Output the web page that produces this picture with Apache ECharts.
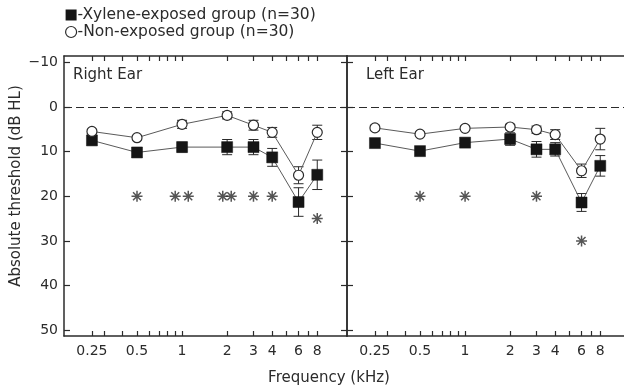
<!DOCTYPE html>
<html>
<head>
<meta charset="utf-8">
<script src="https://cdn.jsdelivr.net/npm/echarts@6/dist/echarts.min.js"></script>
<style>
  html, body { margin: 0; padding: 0; background: #fff; }
  #chart { width: 624px; height: 385px; }
</style>
</head>
<body>
<div id="chart"></div>
<script>
// frequencies (kHz) measured
const freqs = [0.25, 0.5, 1, 2, 3, 4, 6, 8];
const freqLabels = [0.25, 0.5, 1, 2, 3, 4, 6, 8];
const freqTicks = [0.25, 0.3, 0.4, 0.5, 0.6, 0.7, 0.8, 0.9, 1, 2, 3, 4, 5, 6, 7, 8];
const dbTicks = [-10, 0, 10, 20, 30, 40, 50];

// right ear
const rightXylene = [7.5, 10.2, 9.0, 9.0, 9.0, 11.3, 21.3, 15.2];
const rightXyleneErr = [0.6, 0.6, 1.1, 1.7, 1.7, 2.0, 3.2, 3.3];
const rightControl = [5.5, 6.9, 3.9, 1.9, 4.1, 5.7, 15.3, 5.7];
const rightControlErr = [0.5, 0.5, 0.9, 0.8, 1.1, 1.1, 1.9, 1.6];
const rightStarFreqs = [0.5, 0.9, 1.1, 1.87, 2.13, 3, 4, 8];
const rightStarLevels = [20, 20, 20, 20, 20, 20, 20, 25];

// left ear
const leftXylene = [8.1, 9.9, 8.0, 7.2, 9.5, 9.5, 21.4, 13.2];
const leftXyleneErr = [0.6, 0.6, 0.8, 1.4, 1.75, 1.5, 2.0, 2.3];
const leftControl = [4.7, 6.1, 4.8, 4.5, 5.1, 6.2, 14.3, 7.2];
const leftControlErr = [0.6, 0.5, 0.5, 0.6, 0.8, 1.1, 1.5, 2.4];
const leftStarFreqs = [0.5, 1, 3, 6];
const leftStarLevels = [20, 20, 20, 30];

const XY_NAME = 'Xylene-exposed group (n=30)';
const NON_NAME = 'Non-exposed group (n=30)';
const FONT = 'DejaVu Sans';
const INK = '#2b2b2b';
const LINE = '#5a5a5a';

const log2 = v => Math.log2(v);

function pts(fs, vals, errs) {
  return fs.map((f, i) => errs ? [log2(f), vals[i], errs[i]] : [log2(f), vals[i]]);
}

function xAxes(gridIndex) {
  const base = {
    type: 'value', gridIndex: gridIndex, min: -2.62, max: 3.66,
    splitLine: { show: false },
    axisLine: { show: true, onZero: false, lineStyle: { color: INK, width: 1.5 } },
    axisTick: { show: true, inside: true, length: 5, customValues: freqTicks.map(log2),
      lineStyle: { color: INK, width: 1.2 } }
  };
  return [
    Object.assign({}, base, {
      position: 'bottom',
      axisLabel: { show: true, customValues: freqLabels.map(log2), margin: 8,
        color: INK, fontSize: 14, fontFamily: FONT,
        formatter: v => String(Math.round(Math.pow(2, v) * 100) / 100) }
    }),
    Object.assign({}, base, { position: 'top', axisLabel: { show: false } })
  ];
}

function yAxes(gridIndex, withLabels) {
  const base = {
    type: 'value', gridIndex: gridIndex, inverse: true, min: -11.4, max: 51.3,
    splitLine: { show: false },
    axisLine: { show: true, onZero: false, lineStyle: { color: INK, width: 1.5 } },
    axisTick: { show: true, inside: true, length: 6, customValues: dbTicks,
      lineStyle: { color: INK, width: 1.2 } }
  };
  const left = Object.assign({}, base, {
    position: 'left',
    axisLabel: { show: withLabels, customValues: dbTicks, margin: 6,
      color: INK, fontSize: 14, fontFamily: FONT,
      formatter: v => (v < 0 ? '\u2212' + Math.abs(v) : String(v)) }
  });
  if (withLabels) {
    left.name = 'Absolute threshold (dB HL)';
    left.nameLocation = 'middle';
    left.nameGap = 40;
    left.nameTextStyle = { color: INK, fontSize: 15, fontFamily: FONT, padding: [0, 0, 0, 20] };
  }
  return [left, Object.assign({}, base, { position: 'right', axisLabel: { show: false } })];
}

function errorBars(xi, yi, data) {
  return {
    type: 'custom', xAxisIndex: xi, yAxisIndex: yi, z: 1, silent: true,
    data: data,
    renderItem: function (params, api) {
      const x = api.value(0), y = api.value(1), e = api.value(2);
      const top = api.coord([x, y - e]);
      const bot = api.coord([x, y + e]);
      const cw = 5;
      const style = { stroke: INK, lineWidth: 1 };
      return {
        type: 'group',
        children: [
          { type: 'line', shape: { x1: top[0], y1: top[1], x2: bot[0], y2: bot[1] }, style: style },
          { type: 'line', shape: { x1: top[0] - cw, y1: top[1], x2: top[0] + cw, y2: top[1] }, style: style },
          { type: 'line', shape: { x1: bot[0] - cw, y1: bot[1], x2: bot[0] + cw, y2: bot[1] }, style: style }
        ]
      };
    }
  };
}

function xyleneLine(xi, yi, data, withZero) {
  const s = {
    name: XY_NAME, type: 'line', xAxisIndex: xi, yAxisIndex: yi, z: 3,
    data: data, symbol: 'rect', symbolSize: 11, silent: true,
    lineStyle: { color: LINE, width: 1 },
    itemStyle: { color: '#151515', borderColor: '#151515', borderWidth: 0.5 }
  };
  if (withZero) {
    s.markLine = {
      silent: true, symbol: 'none', label: { show: false },
      lineStyle: { color: INK, type: [8, 4], width: 1.2 },
      data: [{ yAxis: 0 }]
    };
  }
  return s;
}

function controlLine(xi, yi, data) {
  return {
    name: NON_NAME, type: 'line', xAxisIndex: xi, yAxisIndex: yi, z: 4,
    data: data, symbol: 'circle', symbolSize: 10, silent: true,
    lineStyle: { color: LINE, width: 1 },
    itemStyle: { color: '#fff', borderColor: INK, borderWidth: 1.2 }
  };
}

const STAR = 'path://M0,-5L0,5M-5,0L5,0M-3.6,-3.6L3.6,3.6M-3.6,3.6L3.6,-3.6';

function stars(xi, yi, data) {
  return {
    type: 'scatter', xAxisIndex: xi, yAxisIndex: yi, z: 2, silent: true,
    data: data, symbol: STAR, symbolSize: 11,
    itemStyle: { color: 'none', borderColor: INK, borderWidth: 1.5 }
  };
}

const chart = echarts.init(document.getElementById('chart'), null, { renderer: 'canvas' });

const textStyle = { color: INK, fontSize: 15, fontWeight: 'normal', fontFamily: FONT };

const option = {
  backgroundColor: '#fff',
  animation: false,
  title: [
    { text: 'Right Ear', left: 68, top: 63, textStyle: textStyle },
    { text: 'Left Ear', left: 361, top: 63, textStyle: textStyle },
    { text: 'Frequency (kHz)', left: 324, textAlign: 'center', top: 366, textStyle: textStyle }
  ],
  legend: {
    orient: 'vertical', left: 60, top: 2, itemGap: 1, itemWidth: 11, itemHeight: 11,
    textStyle: { color: INK, fontSize: 15.5, fontFamily: FONT, padding: [0, 0, 0, -4] },
    formatter: n => '-' + n,
    data: [
      { name: XY_NAME, icon: 'rect', itemStyle: { color: '#151515', borderWidth: 0 } },
      { name: NON_NAME, icon: 'circle', itemStyle: { color: '#fff', borderColor: INK, borderWidth: 1.2 } }
    ]
  },
  grid: [
    { left: 64, top: 56, width: 283, height: 280, containLabel: false, outerBoundsMode: 'none' },
    { left: 347, top: 56, width: 283, height: 280, containLabel: false, outerBoundsMode: 'none' }
  ],
  xAxis: xAxes(0).concat(xAxes(1)),
  yAxis: yAxes(0, true).concat(yAxes(1, false)),
  series: [
    errorBars(0, 0, pts(freqs, rightXylene, rightXyleneErr)),
    errorBars(0, 0, pts(freqs, rightControl, rightControlErr)),
    xyleneLine(0, 0, pts(freqs, rightXylene), true),
    controlLine(0, 0, pts(freqs, rightControl)),
    stars(0, 0, pts(rightStarFreqs, rightStarLevels)),

    errorBars(2, 2, pts(freqs, leftXylene, leftXyleneErr)),
    errorBars(2, 2, pts(freqs, leftControl, leftControlErr)),
    xyleneLine(2, 2, pts(freqs, leftXylene), true),
    controlLine(2, 2, pts(freqs, leftControl)),
    stars(2, 2, pts(leftStarFreqs, leftStarLevels))
  ]
};

chart.setOption(option);
</script>
</body>
</html>
